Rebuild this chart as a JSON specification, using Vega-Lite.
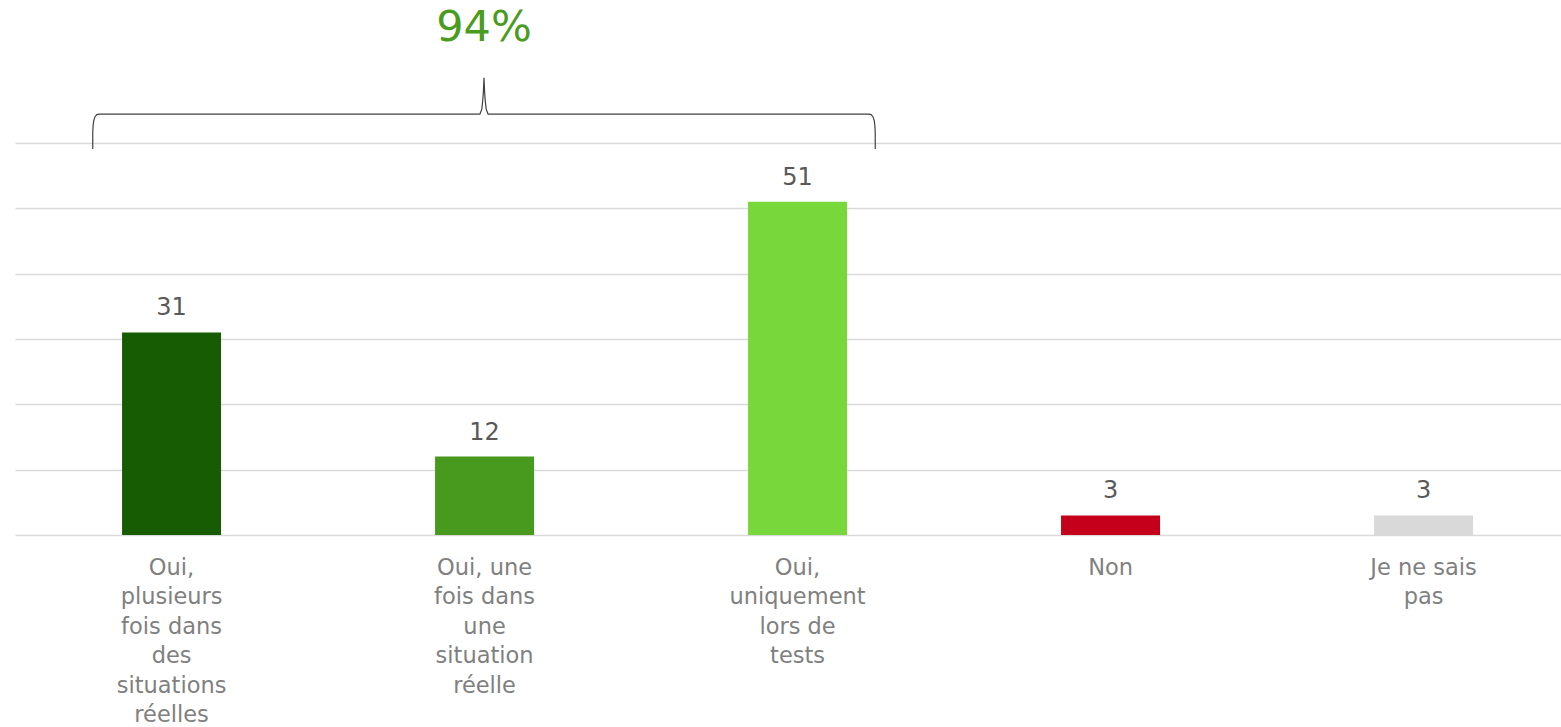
{
  "$schema": "https://vega.github.io/schema/vega-lite/v6.json",
  "width": 1546,
  "height": 535,
  "autosize": "none",
  "padding": {"left": 15, "top": 0, "right": 0, "bottom": 192},
  "background": "white",
  "config": {"view": {"stroke": null}, "font": "DejaVu Sans"},
  "resolve": {"scale": {"x": "independent"}},
  "layer": [
    {
      "data": {"values": [
        {"reponse": "Oui, plusieurs fois dans des situations réelles", "n": 31},
        {"reponse": "Oui, une fois dans une situation réelle", "n": 12},
        {"reponse": "Oui, uniquement lors de tests", "n": 51},
        {"reponse": "Non", "n": 3},
        {"reponse": "Je ne sais pas", "n": 3}
      ]},
      "encoding": {
        "x": {
          "field": "reponse", "type": "nominal", "sort": null,
          "scale": {"paddingInner": 0.6837, "paddingOuter": 0.3115, "align": 0.549},
          "axis": {
            "title": null, "domain": false, "ticks": false, "labelAngle": 0,
            "labelFont": "DejaVu Sans", "labelFontSize": 22.5, "labelColor": "#808080",
            "labelPadding": 21, "labelLineHeight": 29.5, "labelLimit": 300,
            "labelBaseline": "top",
            "labelExpr": "datum.label == 'Oui, plusieurs fois dans des situations réelles' ? ['Oui,','plusieurs','fois dans','des','situations','réelles'] : datum.label == 'Oui, une fois dans une situation réelle' ? ['Oui, une','fois dans','une','situation','réelle'] : datum.label == 'Oui, uniquement lors de tests' ? ['Oui,','uniquement','lors de','tests'] : datum.label == 'Je ne sais pas' ? ['Je ne sais','pas'] : datum.label"
          }
        },
        "y": {
          "field": "n", "type": "quantitative",
          "scale": {"domain": [0, 81.9], "nice": false},
          "axis": {"title": null, "values": [0, 10, 20, 30, 40, 50, 60], "labels": false, "ticks": false, "domain": false, "grid": true, "gridColor": "#d9d9d9", "gridWidth": 1.6}
        }
      },
      "layer": [
        {
          "mark": {"type": "bar"},
          "encoding": {
            "color": {
              "field": "reponse", "type": "nominal", "legend": null,
              "scale": {
                "domain": ["Oui, plusieurs fois dans des situations réelles", "Oui, une fois dans une situation réelle", "Oui, uniquement lors de tests", "Non", "Je ne sais pas"],
                "range": ["#175c03", "#489a1f", "#78d73a", "#c5001a", "#d9d9d9"]
              }
            }
          }
        },
        {
          "mark": {"type": "text", "baseline": "alphabetic", "align": "center", "dy": -17, "fontSize": 24, "color": "#595959", "font": "DejaVu Sans"},
          "encoding": {"text": {"field": "n", "type": "quantitative"}}
        }
      ]
    },
    {
      "data": {"values": [
        {"i": 1, "x": 0.750, "y": 59.1},
        {"i": 2, "x": 0.750, "y": 61.5},
        {"i": 3, "x": 0.751, "y": 62.6},
        {"i": 4, "x": 0.753, "y": 63.4},
        {"i": 5, "x": 0.757, "y": 64.0},
        {"i": 6, "x": 0.763, "y": 64.35},
        {"i": 7, "x": 0.770, "y": 64.44},
        {"i": 8, "x": 1.987, "y": 64.44},
        {"i": 9, "x": 1.993, "y": 65.2},
        {"i": 10, "x": 1.996, "y": 66.5},
        {"i": 11, "x": 1.998, "y": 67.8},
        {"i": 12, "x": 2.000, "y": 70.0},
        {"i": 13, "x": 2.002, "y": 67.8},
        {"i": 14, "x": 2.004, "y": 66.5},
        {"i": 15, "x": 2.007, "y": 65.2},
        {"i": 16, "x": 2.013, "y": 64.44},
        {"i": 17, "x": 3.230, "y": 64.44},
        {"i": 18, "x": 3.237, "y": 64.35},
        {"i": 19, "x": 3.243, "y": 64.0},
        {"i": 20, "x": 3.247, "y": 63.4},
        {"i": 21, "x": 3.249, "y": 62.6},
        {"i": 22, "x": 3.250, "y": 61.5},
        {"i": 23, "x": 3.250, "y": 59.1}
      ]},
      "mark": {"type": "line", "color": "#404040", "strokeWidth": 1.2, "interpolate": "linear"},
      "encoding": {
        "x": {"field": "x", "type": "quantitative", "scale": {"domain": [0.5016, 5.441], "nice": false, "zero": false}, "axis": null},
        "y": {"field": "y", "type": "quantitative", "axis": {"title": null, "values": [0, 10, 20, 30, 40, 50, 60], "labels": false, "ticks": false, "domain": false, "grid": true, "gridColor": "#d9d9d9", "gridWidth": 1.6}},
        "order": {"field": "i", "type": "quantitative"}
      }
    },
    {
      "data": {"values": [{"x": 2.0, "y": 75.6, "label": "94%"}]},
      "mark": {"type": "text", "baseline": "alphabetic", "align": "center", "fontSize": 43, "color": "#4a9c1f", "font": "DejaVu Sans"},
      "encoding": {
        "x": {"field": "x", "type": "quantitative", "scale": {"domain": [0.5016, 5.441], "nice": false, "zero": false}, "axis": null},
        "y": {"field": "y", "type": "quantitative", "axis": {"title": null, "values": [0, 10, 20, 30, 40, 50, 60], "labels": false, "ticks": false, "domain": false, "grid": true, "gridColor": "#d9d9d9", "gridWidth": 1.6}},
        "text": {"field": "label"}
      }
    }
  ]
}
